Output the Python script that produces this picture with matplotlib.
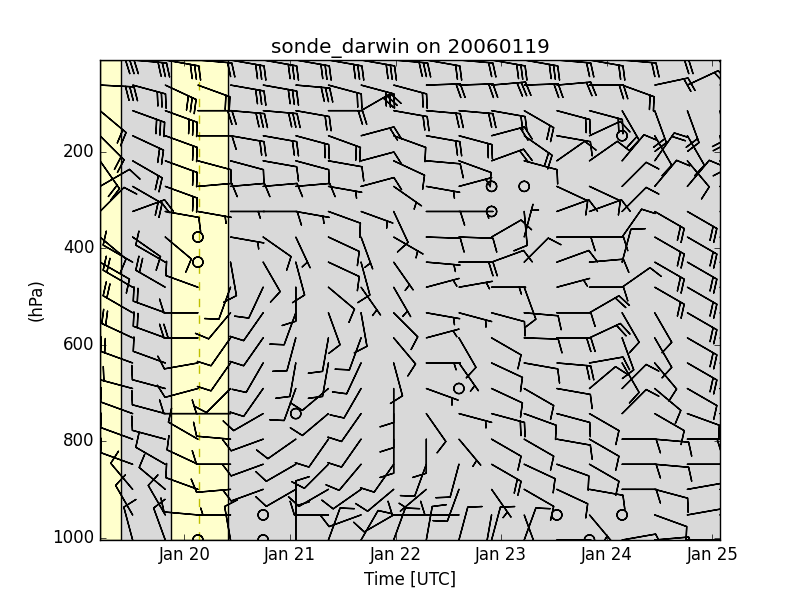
import numpy as np
import matplotlib
matplotlib.use('Agg')
import matplotlib.pyplot as plt
import matplotlib.dates as mdates
from datetime import datetime

plt.style.use('classic')

# sonde launch times (UTC)
times = ['2006-01-19 04:48', '2006-01-19 12:13', '2006-01-19 19:38', '2006-01-20 03:03',
         '2006-01-20 10:28', '2006-01-20 17:53', '2006-01-21 01:18', '2006-01-21 08:43',
         '2006-01-21 16:08', '2006-01-21 23:33', '2006-01-22 06:58', '2006-01-22 14:23',
         '2006-01-22 21:48', '2006-01-23 05:13', '2006-01-23 12:38', '2006-01-23 20:03',
         '2006-01-24 03:28', '2006-01-24 10:53', '2006-01-24 18:18', '2006-01-25 01:43']

# pressure levels (hPa), top to bottom
pres = [10, 62, 115, 167, 219, 272, 324, 377, 429, 481,
        534, 586, 638, 691, 743, 796, 848, 900, 953, 1005]

# wind direction (deg, from) per level, same order as pres
wdir = [
    [90, 95, 100, 95, 100, 100, 100, 100, 100, 95, 100, 95, 100, 100, 95, 100, 95, 90, 80, 70],
    [93, 105, 115, 110, 100, 100, 95, 105, 105, 105, 88, 88, 85, 88, 85, 90, 110, 78, 65, 60],
    [130, 110, 110, 90, 95, 95, 100, 90, 60, 100, 95, 95, 100, 120, 105, 105, 150, 160, 160, 170],
    [135, 115, 110, 90, 100, 100, 105, 110, 75, 110, 100, 105, 75, 125, 100, 65, 0, 150, 150, 170],
    [145, 120, 110, 105, 105, 100, 105, 100, 75, 115, 95, 110, 70, 105, 55, 55, 40, 35, 140, 150],
    [60, 120, 110, 85, 85, 85, 85, 100, 75, 125, 100, 75, 0, 0, 115, 115, 45, 40, 40, 130],
    [45, 70, 100, 100, 90, 90, 100, 110, 110, 155, 90, 90, 0, 175, 70, 70, 45, 120, 120, 120],
    [130, 125, 130, 0, 100, 125, 155, 115, 160, 120, 92, 92, 60, 15, 90, 90, 35, 120, 120, 120],
    [120, 300, 300, 0, 170, 150, 165, 115, 165, 145, 95, 90, 70, 45, 70, 85, 15, 120, 120, 120],
    [300, 300, 300, 290, 200, 205, 180, 130, 145, 150, 75, 80, 90, 160, 75, 90, 55, 120, 120, 120],
    [300, 300, 290, 270, 220, 215, 200, 160, 170, 135, 100, 105, 105, 95, 90, 60, 150, 150, 120, 120],
    [300, 295, 290, 270, 215, 215, 195, 190, 200, 140, 75, 150, 120, 92, 90, 65, 160, 150, 120, 120],
    [295, 290, 290, 260, 215, 210, 190, 190, 205, 165, 90, 145, 115, 100, 95, 80, 150, 140, 120, 120],
    [295, 285, 285, 255, 225, 215, 200, 230, 210, 180, 110, 0, 115, 120, 100, 50, 45, 130, 120, 120],
    [290, 290, 285, 270, 270, 240, 0, 230, 215, 180, 145, 105, 105, 110, 105, 120, 45, 120, 110, 100],
    [290, 290, 285, 300, 275, 250, 235, 215, 215, 180, 180, 140, 120, 120, 100, 120, 90, 95, 90, 90],
    [300, 290, 300, 295, 270, 250, 240, 225, 220, 215, 200, 195, 120, 115, 110, 120, 90, 95, 90, 90],
    [330, 320, 310, 290, 265, 250, 240, 240, 235, 230, 230, 200, 145, 120, 115, 100, 90, 105, 80, 90],
    [340, 330, 330, 275, 270, 0, 0, 270, 250, 240, 270, 270, 190, 160, 0, 140, 0, 110, 80, 90],
    [340, 345, 340, 0, 350, 0, 0, 20, 30, 20, 10, 15, 15, 20, 90, 0, 80, 85, 90, 90],
]

# wind speed (kt) per level
wspd = [
    [30, 30, 30, 20, 30, 30, 30, 30, 30, 30, 20, 20, 30, 30, 20, 20, 20, 20, 20, 20],
    [30, 30, 30, 20, 30, 30, 30, 20, 30, 20, 20, 20, 30, 20, 20, 20, 20, 20, 20, 20],
    [20, 30, 30, 20, 30, 30, 20, 20, 30, 20, 20, 20, 20, 20, 20, 20, 20, 20, 20, 20],
    [20, 20, 20, 10, 20, 20, 20, 20, 20, 10, 20, 20, 20, 20, 10, 10, 0, 10, 10, 10],
    [20, 20, 20, 10, 10, 10, 10, 10, 10, 10, 10, 10, 20, 10, 10, 10, 10, 20, 10, 10],
    [10, 20, 20, 10, 10, 10, 10, 5, 10, 5, 5, 5, 0, 0, 10, 10, 10, 10, 10, 10],
    [10, 20, 10, 5, 5, 10, 5, 10, 5, 10, 10, 5, 0, 10, 10, 10, 10, 20, 20, 20],
    [10, 10, 10, 0, 5, 10, 5, 10, 5, 5, 10, 10, 10, 5, 10, 10, 10, 20, 20, 20],
    [10, 10, 10, 0, 10, 10, 10, 10, 10, 5, 5, 20, 10, 10, 10, 10, 10, 20, 20, 20],
    [20, 20, 20, 10, 10, 10, 10, 10, 5, 5, 5, 5, 5, 10, 5, 10, 10, 20, 20, 20],
    [20, 20, 20, 10, 10, 10, 10, 10, 10, 10, 5, 5, 10, 10, 10, 20, 10, 10, 20, 20],
    [20, 20, 20, 20, 10, 10, 10, 10, 10, 10, 5, 10, 10, 10, 20, 20, 10, 10, 20, 20],
    [20, 20, 10, 10, 10, 10, 10, 10, 10, 10, 5, 5, 10, 10, 20, 10, 10, 10, 20, 20],
    [20, 20, 10, 10, 10, 10, 10, 10, 10, 10, 5, 0, 10, 10, 10, 10, 10, 10, 10, 10],
    [10, 10, 10, 10, 10, 10, 0, 10, 10, 10, 10, 5, 20, 10, 10, 10, 10, 10, 10, 10],
    [10, 10, 10, 10, 10, 10, 10, 10, 10, 10, 10, 5, 10, 10, 10, 10, 10, 10, 20, 10],
    [10, 10, 10, 10, 10, 10, 10, 10, 10, 10, 10, 10, 20, 10, 10, 10, 10, 10, 10, 10],
    [10, 10, 10, 10, 10, 10, 10, 10, 10, 10, 5, 10, 5, 10, 10, 10, 10, 10, 10, 10],
    [5, 10, 10, 10, 5, 0, 10, 10, 10, 10, 10, 10, 10, 5, 0, 5, 0, 10, 10, 10],
    [10, 10, 10, 0, 10, 0, 10, 10, 10, 10, 10, 10, 10, 10, 10, 0, 10, 10, 10, 10],
]

# periods shaded as missing sondes, and the reference time line
gaps = [('2006-01-19 04:48', '2006-01-19 09:35'),
        ('2006-01-19 20:55', '2006-01-20 09:50')]
ref_time = '2006-01-20 03:15'


def tnum(s):
    return mdates.date2num(datetime.strptime(s, '%Y-%m-%d %H:%M'))


t = np.array([tnum(s) for s in times])
X, Y = np.meshgrid(t, pres)
d = np.radians(np.array(wdir, dtype=float))
s = np.array(wspd, dtype=float)
U = -s * np.sin(d)
V = -s * np.cos(d)

fig = plt.figure(figsize=(8, 6))
ax = fig.add_subplot(111)
ax.set_facecolor('0.85')

for a, b in gaps:
    ax.axvspan(tnum(a), tnum(b), facecolor='#ffffcc', edgecolor='k', zorder=1)
ax.axvline(tnum(ref_time), color='y', linestyle='--', zorder=1.5)

ax.barbs(X, Y, U, V, zorder=3)

ax.set_xlim(t[0], t[-1])
ax.set_ylim(max(pres), min(pres))
ax.xaxis_date()
ax.xaxis.set_major_locator(mdates.DayLocator())
ax.xaxis.set_major_formatter(mdates.DateFormatter('%b %d'))

ax.set_xlabel('Time [UTC]')
ax.set_ylabel('(hPa)')
ax.set_title('sonde_darwin on 20060119')

fig.savefig('out.png', dpi=100)
